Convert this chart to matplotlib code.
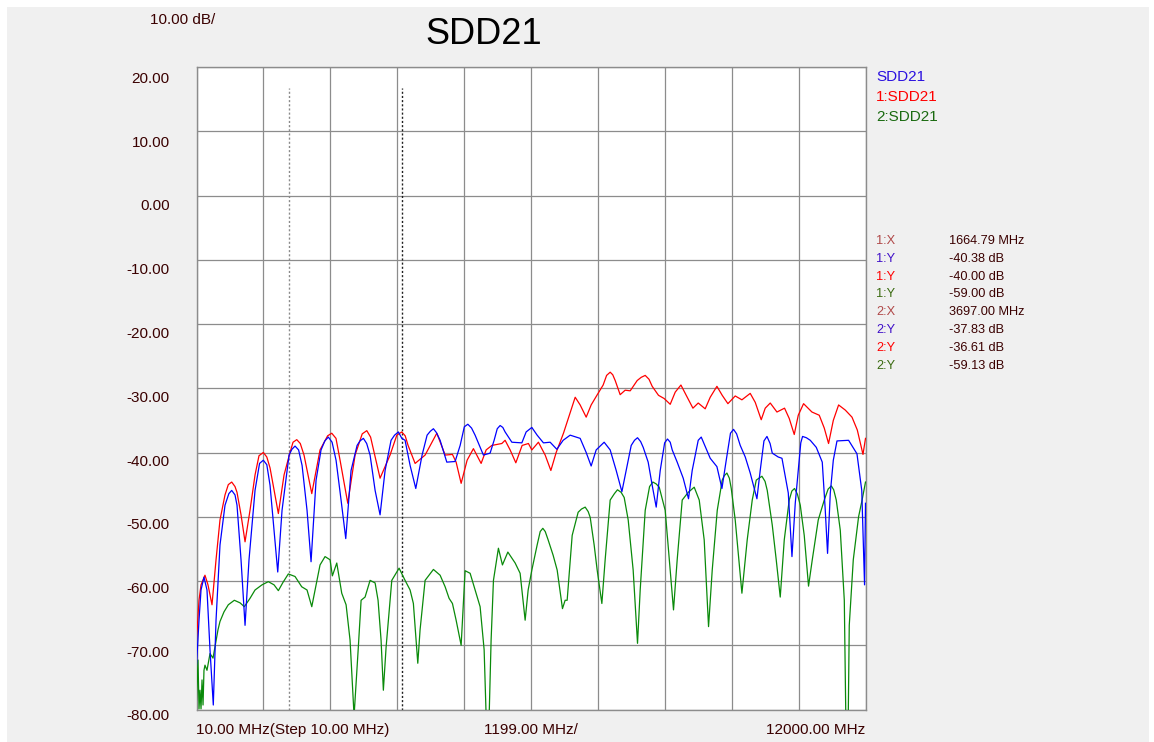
import matplotlib
matplotlib.use("Agg")
import matplotlib.pyplot as plt
from matplotlib.patches import Rectangle
import matplotlib.transforms as mtransforms

plt.rcParams['font.family'] = ['Liberation Sans', 'DejaVu Sans']

# ---------------- data (MHz, dB) ----------------
red_f = [10, 55, 91, 162, 216, 288, 360, 431, 521, 580, 641, 700, 736, 808, 880, 969, 1059, 1130, 1208,
         1270, 1328, 1477, 1579, 1686, 1740, 1807, 1870, 1937, 2076, 2224, 2360, 2434, 2510, 2583, 2721,
         2852, 2980, 3062, 3130, 3175, 3300, 3479, 3600, 3689, 3750, 3802, 3928, 4107, 4317, 4466,
         4597, 4663, 4753, 4860, 4973, 5111, 5201, 5303, 5482, 5541, 5631, 5733, 5846, 5959, 6020,
         6138, 6259, 6361, 6456, 6587, 6797, 6886, 6994, 7083, 7186, 7298, 7360, 7424, 7470, 7514,
         7603, 7693, 7783, 7908, 7980, 8052, 8120, 8177, 8290, 8392, 8500, 8590, 8692, 8787, 8907,
         9002, 9127, 9217, 9337, 9432, 9534, 9665, 9785, 9934, 10024, 10131, 10203, 10293, 10413,
         10549, 10633, 10723, 10795, 10890, 11040, 11171, 11261, 11338, 11423, 11518, 11638, 11758,
         11853, 11955, 12000]
red_db = [-69.2, -63.0, -60.6, -59.1, -60.6, -63.7, -56.7, -50.5, -46.6, -45.0, -44.6, -45.3, -46.2,
          -49.7, -53.9, -49.0, -43.5, -40.5, -40.0, -40.7, -42.4, -49.5, -43.5, -40.0, -38.4, -38.0,
          -38.6, -40.4, -46.4, -39.6, -37.4, -37.0, -37.8, -41.2, -47.9, -40.4, -37.1, -36.6, -37.6,
          -39.3, -44.0, -40.4, -37.3, -36.8, -37.4, -38.9, -41.7, -40.4, -37.0, -40.4, -40.3, -41.5,
          -44.8, -41.2, -39.4, -41.7, -39.6, -38.9, -38.6, -38.1, -39.6, -41.6, -38.9, -38.6, -39.6,
          -38.4, -40.4, -42.8, -40.0, -37.0, -31.4, -32.6, -34.5, -32.6, -31.1, -29.5, -28.0, -27.5,
          -27.9, -28.8, -31.0, -30.3, -30.4, -28.8, -28.3, -28.0, -28.6, -29.7, -31.1, -31.6, -32.5,
          -30.6, -29.5, -31.1, -33.1, -32.3, -33.2, -31.4, -29.7, -31.1, -32.4, -31.2, -31.8, -30.8,
          -32.2, -34.9, -33.1, -32.3, -33.7, -33.1, -34.7, -37.2, -34.2, -32.4, -33.7, -34.2, -36.2,
          -38.6, -35.0, -32.6, -33.4, -34.5, -36.5, -40.3, -37.8]

blue_f = [10, 55, 91, 144, 198, 252, 311, 360, 431, 521, 590, 641, 700, 736, 808, 880, 951, 1059, 1140,
          1208, 1270, 1328, 1400, 1466, 1543, 1669, 1720, 1776, 1840, 1902, 1991, 2063, 2153, 2242,
          2310, 2373, 2440, 2511, 2601, 2685, 2780, 2888, 2940, 3001, 3060, 3121, 3211, 3300, 3390,
          3497, 3560, 3628, 3690, 3748, 3838, 3940, 4053, 4143, 4200, 4256, 4310, 4376, 4496, 4645,
          4735, 4810, 4873, 4940, 5003, 5152, 5272, 5344, 5400, 5452, 5500, 5541, 5662, 5841, 5918,
          6020, 6115, 6228, 6348, 6468, 6581, 6707, 6886, 6994, 7083, 7173, 7316, 7424, 7532, 7634,
          7729, 7801, 7860, 7914, 7970, 8016, 8105, 8177, 8249, 8321, 8400, 8451, 8500, 8536, 8625,
          8733, 8828, 8894, 9002, 9056, 9217, 9337, 9427, 9504, 9580, 9635, 9690, 9755, 9845, 9934,
          10054, 10113, 10180, 10234, 10290, 10329, 10436, 10503, 10616, 10682, 10741, 10795, 10840,
          10872, 10940, 11010, 11118, 11225, 11279, 11320, 11369, 11423, 11489, 11697, 11847, 11933,
          11983, 12000]
blue_db = [-73.1, -66.1, -61.4, -59.4, -61.4, -70.7, -79.3, -66.1, -54.4, -48.2, -46.4, -45.9, -46.6,
           -48.2, -56.7, -66.9, -56.7, -45.9, -41.7, -41.2, -41.9, -45.1, -52.1, -58.6, -49.0, -40.4,
           -39.5, -39.0, -39.6, -42.0, -49.0, -57.0, -44.3, -39.6, -38.2, -37.6, -38.4, -41.2, -47.4,
           -53.4, -42.8, -38.9, -38.2, -37.8, -38.6, -40.4, -45.9, -49.7, -42.8, -38.1, -37.3, -36.8,
           -37.8, -38.1, -42.0, -45.6, -40.4, -37.3, -36.7, -36.3, -36.9, -38.1, -41.5, -41.4, -38.9,
           -36.0, -35.6, -36.2, -37.3, -40.4, -40.1, -38.1, -36.3, -35.8, -36.1, -36.8, -38.4, -38.5,
           -36.8, -36.1, -37.3, -38.5, -38.4, -39.5, -38.1, -37.3, -37.8, -40.0, -42.1, -39.6, -38.4,
           -39.6, -42.8, -46.1, -42.0, -38.9, -38.1, -37.7, -38.3, -39.2, -41.5, -45.1, -48.5, -42.8,
           -38.5, -37.9, -38.4, -39.6, -41.5, -44.0, -47.2, -42.8, -38.1, -37.6, -40.9, -42.2, -45.6,
           -41.2, -37.0, -36.4, -37.1, -38.9, -40.7, -43.2, -47.2, -42.8, -38.2, -37.5, -38.6, -40.1,
           -40.7, -40.9, -46.3, -56.2, -47.9, -42.8, -38.5, -37.5, -37.7, -38.1, -39.2, -41.5, -49.0,
           -55.7, -46.3, -41.2, -38.2, -38.1, -40.2, -45.9, -60.6, -47.9]

green_f = [10, 37, 55, 73, 91, 109, 127, 144, 162, 198, 252, 306, 342, 395, 431, 503, 580, 688, 790,
           867, 969, 1059, 1184, 1297, 1400, 1477, 1561, 1656, 1776, 1896, 1991, 2076, 2153, 2224,
           2314, 2404, 2445, 2524, 2613, 2691, 2762, 2834, 2911, 2960, 3031, 3121, 3211, 3264, 3318,
           3359, 3408, 3510, 3641, 3748, 3838, 3897, 3976, 4017, 4107, 4256, 4376, 4466, 4537, 4597,
           4663, 4753, 4824, 4914, 5003, 5093, 5165, 5201, 5255, 5290, 5332, 5421, 5493, 5590, 5721,
           5810, 5900, 5954, 6020, 6115, 6170, 6217, 6260, 6312, 6402, 6474, 6569, 6617, 6653, 6743,
           6850, 6910, 6976, 7030, 7066, 7137, 7191, 7275, 7334, 7424, 7500, 7555, 7620, 7675, 7747,
           7836, 7914, 7962, 8052, 8130, 8190, 8250, 8303, 8410, 8500, 8559, 8625, 8715, 8823, 8930,
           9020, 9109, 9187, 9253, 9343, 9432, 9470, 9516, 9560, 9594, 9665, 9785, 9880, 9970, 10042,
           10090, 10144, 10200, 10239, 10329, 10400, 10472, 10544, 10633, 10680, 10728, 10780, 10831,
           10902, 10979, 11046, 11153, 11261, 11330, 11387, 11430, 11476, 11548, 11620, 11647, 11691,
           11709, 11781, 11876, 11939, 12000]
green_db = [-78.5, -72.3, -79.9, -77.0, -79.9, -75.4, -79.3, -73.9, -73.1, -73.9, -71.3, -72.0, -70.2,
            -67.6, -66.3, -64.8, -63.7, -63.0, -63.4, -64.0, -62.7, -61.4, -60.6, -60.1, -60.6, -61.5,
            -60.2, -58.9, -59.3, -60.9, -61.4, -64.0, -60.6, -57.5, -56.2, -56.7, -59.2, -57.2, -61.9,
            -63.7, -69.2, -81.0, -70.2, -63.0, -62.5, -59.9, -60.3, -63.0, -69.2, -77.0, -70.3, -59.9,
            -58.0, -59.9, -61.4, -63.5, -72.8, -67.6, -59.9, -58.2, -59.1, -60.9, -62.7, -63.5, -66.1,
            -70.0, -58.4, -58.8, -61.4, -64.0, -70.7, -81.0, -81.0, -69.2, -59.9, -54.9, -57.5, -55.5,
            -57.2, -58.8, -66.1, -61.4, -58.3, -54.4, -52.3, -51.8, -52.3, -53.6, -56.0, -58.3, -64.3,
            -63.0, -63.0, -52.9, -49.3, -48.8, -48.5, -49.2, -50.1, -54.4, -58.3, -63.5, -56.7, -47.4,
            -46.4, -45.8, -46.2, -47.0, -50.5, -58.3, -69.7, -61.4, -49.0, -45.3, -44.6, -44.9, -45.4,
            -49.0, -58.3, -64.5, -56.7, -47.4, -46.2, -45.4, -47.4, -53.6, -67.1, -58.3, -49.0, -44.3,
            -43.6, -43.2, -44.0, -45.6, -50.5, -61.9, -53.6, -47.4, -44.3, -44.0, -43.7, -44.5, -45.9,
            -51.3, -56.7, -62.5, -53.6, -47.4, -46.0, -45.6, -46.5, -48.2, -52.9, -60.8, -56.7, -50.5,
            -47.4, -45.7, -45.2, -45.8, -47.4, -52.1, -63.0, -81.0, -81.0, -66.9, -56.7, -50.0, -47.4,
            -44.6]

marker_freqs = [1664.79, 3697.00]
y_ticks = [20, 10, 0, -10, -20, -30, -40, -50, -60, -70, -80]
f_start, f_stop, f_step = 10.0, 12000.0, 1199.0

legend_names = ["SDD21", "1:SDD21", "2:SDD21"]
marker_labels = ["1:X", "1:Y", "1:Y", "1:Y", "2:X", "2:Y", "2:Y", "2:Y"]
marker_values = ["1664.79 MHz", "-40.38 dB", "-40.00 dB", "-59.00 dB",
                 "3697.00 MHz", "-37.83 dB", "-36.61 dB", "-59.13 dB"]

# ---------------- styling ----------------
BLUE, RED, GREEN = "#0000ff", "#ff0000", "#0a8a0a"
TXT = "#3a0000"
W, H = 1154, 742

fig = plt.figure(figsize=(W / 100, H / 100), dpi=100, facecolor="white")
fig.patches.append(Rectangle((7 / W, 0), (1149 - 7) / W, 1 - 7 / H,
                             transform=fig.transFigure, facecolor="#f0f0f0",
                             edgecolor="none", zorder=-10))

L, R, T, B = 196.5, 865.5, 67, 709.5
ax = fig.add_axes([L / W, 1 - B / H, (R - L) / W, (B - T) / H])
ax.set_facecolor("white")
ax.set_xlim(f_start, f_stop)
ax.set_ylim(-80, 20)

grid_x = [f_start + k * f_step for k in range(11)]
ax.set_xticks(grid_x)
ax.set_yticks(y_ticks)
ax.grid(True, color="#8c8c8c", linewidth=0.9)
ax.tick_params(length=0, labelleft=False, labelbottom=False)
for s in ax.spines.values():
    s.set_color("#8c8c8c")
    s.set_linewidth(1.0)

# marker lines
ax.axvline(marker_freqs[0], ymin=0, ymax=0.967, color="#8a8a8a", linestyle=(0, (1.5, 1.5)), linewidth=1.0)
ax.axvline(marker_freqs[1], ymin=0, ymax=0.967, color="#202020", linestyle=(0, (1.5, 1.5)), linewidth=1.0)

# traces
ax.plot(green_f, green_db, color=GREEN, linewidth=0.9, zorder=3)
ax.plot(red_f, red_db, color=RED, linewidth=0.9, zorder=4)
ax.plot(blue_f, blue_db, color=BLUE, linewidth=0.9, zorder=5)

# y labels (sit a little below each grid line)
blend = mtransforms.blended_transform_factory(ax.transAxes, ax.transData)
for i, v in enumerate(y_ticks):
    off = mtransforms.ScaledTranslation(0, -(12 - 0.5 * i) / 100, fig.dpi_scale_trans)
    ax.text(-0.04, v, f"{v:.2f}", transform=blend + off,
            ha="right", va="center", fontsize=11, color=TXT)

# x labels
ylab = 1 - 730 / H
fig.text(L / W, ylab, f"{f_start:.2f} MHz(Step 10.00 MHz)", ha="left", va="center", fontsize=11, color=TXT)
fig.text((L + R) / 2 / W, ylab, f"{f_step:.2f} MHz/", ha="center", va="center", fontsize=11, color=TXT)
fig.text(R / W, ylab, f"{f_stop:.2f} MHz", ha="right", va="center", fontsize=11, color=TXT)

# title and scale
fig.text(484 / W, 1 - 34 / H, "SDD21", ha="center", va="center", fontsize=26, color="black")
fig.text(150 / W, 1 - 20 / H, "10.00 dB/", ha="left", va="center", fontsize=11, color=TXT)

# legend
for name, c, yy in zip(legend_names, ["#2a10e0", RED, "#1a6a10"], [77, 97, 117]):
    fig.text(876 / W, 1 - yy / H, name, ha="left", va="center", fontsize=11, color=c)

# marker table
lab_colors = ["#b04848", "#4010c8", RED, "#3a6a10", "#b04848", "#4010c8", RED, "#3a6a10"]
for i, (lab, val, c) in enumerate(zip(marker_labels, marker_values, lab_colors)):
    yy = 241 + 17.8 * i
    fig.text(876 / W, 1 - yy / H, lab, ha="left", va="center", fontsize=9.2, color=c)
    fig.text(949 / W, 1 - yy / H, val, ha="left", va="center", fontsize=9.2, color=TXT)

fig.savefig("out.png", dpi=100, facecolor=fig.get_facecolor())
